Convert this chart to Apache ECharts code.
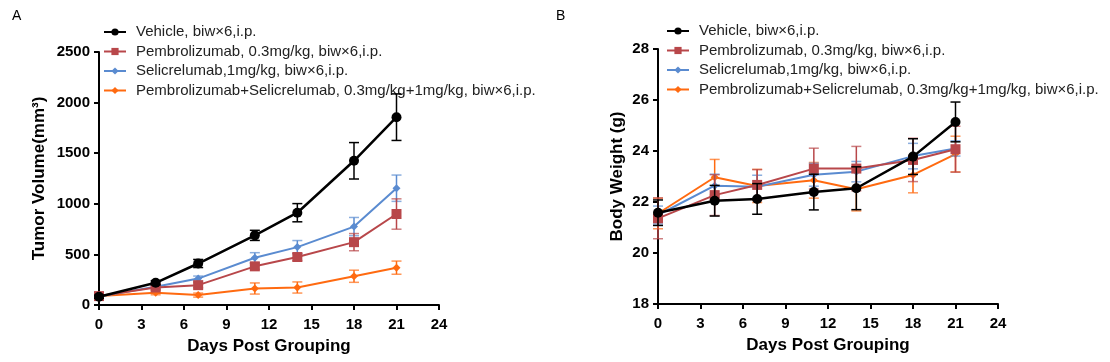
<!DOCTYPE html>
<html>
<head>
<meta charset="utf-8">
<script src="https://cdn.jsdelivr.net/npm/echarts@6/dist/echarts.min.js"></script>
<style>
html,body{margin:0;padding:0;background:#fff;}
#chart{width:1110px;height:362px;}
</style>
</head>
<body>
<div id="chart"></div>
<script>
// ---- data ----
const days = [0, 4, 7, 11, 14, 18, 21];
const xTicks = [0, 3, 6, 9, 12, 15, 18, 21, 24];
const seriesNames = [
  'Vehicle, biw×6,i.p.',
  'Pembrolizumab, 0.3mg/kg, biw×6,i.p.',
  'Selicrelumab,1mg/kg, biw×6,i.p.',
  'Pembrolizumab+Selicrelumab, 0.3mg/kg+1mg/kg, biw×6,i.p.'
];
// Tumor volume (mm3) mean and SEM
const tvVehicle    = [82, 219, 410, 688, 912, 1425, 1856];
const tvVehicleErr = [15, 20, 40, 50, 90, 180, 230];
const tvPembro     = [88, 173, 196, 382, 474, 621, 899];
const tvPembroErr  = [15, 20, 25, 30, 35, 85, 150];
const tvSeli       = [85, 180, 261, 467, 572, 775, 1154];
const tvSeliErr    = [15, 20, 25, 50, 65, 90, 130];
const tvCombo      = [88, 121, 98, 163, 173, 284, 369];
const tvComboErr   = [15, 20, 20, 55, 55, 60, 65];
// Body weight (g) mean and SEM
const bwVehicle    = [21.58, 22.05, 22.12, 22.39, 22.54, 23.78, 25.14];
const bwVehicleErr = [0.5, 0.6, 0.6, 0.7, 0.84, 0.7, 0.78];
const bwPembro     = [21.36, 22.27, 22.67, 23.31, 23.31, 23.65, 24.07];
const bwPembroErr  = [0.8, 0.8, 0.6, 0.8, 0.87, 0.85, 0.9];
const bwSeli       = [21.49, 22.64, 22.60, 23.07, 23.19, 23.80, 24.10];
const bwSeliErr    = [0.35, 0.45, 0.45, 0.45, 0.4, 0.5, 0.3];
const bwCombo      = [21.55, 22.97, 22.63, 22.85, 22.50, 23.06, 23.88];
const bwComboErr   = [0.6, 0.7, 0.65, 0.7, 0.85, 0.7, 0.7];

const colors = ['#000000', '#B8474A', '#5A8BD0', '#FF6A10'];
const symbols = ['circle', 'rect', 'diamond', 'diamond'];
const symbolSizes = [10, 10, 8, 8];
const lineWidths = [2.5, 2, 2, 2];
const zs = [8, 6, 5, 4];

function pairs(xs, ys) { return xs.map((x, i) => [x, ys[i]]); }
function errData(xs, ys, es) { return xs.map((x, i) => [x, ys[i], es[i]]); }

function errSeries(gi, si, ys, es) {
  return {
    type: 'custom',
    xAxisIndex: gi, yAxisIndex: gi,
    z: zs[si] - 0.5,
    silent: true,
    data: errData(days, ys, es),
    encode: { x: 0, y: 1 },
    renderItem: function (params, api) {
      const x = api.value(0), m = api.value(1), e = api.value(2);
      const top = api.coord([x, m + e]);
      const bot = api.coord([x, m - e]);
      const hw = 5;
      const st = { stroke: colors[si], lineWidth: 1.5 };
      const cap = { stroke: colors[si], lineWidth: 1.5, opacity: si === 0 ? 1 : 0.7 };
      return {
        type: 'group',
        children: [
          { type: 'line', shape: { x1: top[0], y1: top[1], x2: bot[0], y2: bot[1] }, style: st },
          { type: 'line', shape: { x1: top[0] - hw, y1: top[1], x2: top[0] + hw, y2: top[1] }, style: cap },
          { type: 'line', shape: { x1: bot[0] - hw, y1: bot[1], x2: bot[0] + hw, y2: bot[1] }, style: cap }
        ]
      };
    }
  };
}

function lineSeries(gi, si, ys) {
  return {
    name: seriesNames[si],
    type: 'line',
    xAxisIndex: gi, yAxisIndex: gi,
    z: zs[si],
    data: pairs(days, ys),
    symbol: symbols[si],
    symbolSize: symbolSizes[si],
    showAllSymbol: true,
    lineStyle: { color: colors[si], width: lineWidths[si] },
    itemStyle: { color: colors[si] },
    emphasis: { disabled: true }
  };
}

const tv = [[tvVehicle, tvVehicleErr], [tvPembro, tvPembroErr], [tvSeli, tvSeliErr], [tvCombo, tvComboErr]];
const bw = [[bwVehicle, bwVehicleErr], [bwPembro, bwPembroErr], [bwSeli, bwSeliErr], [bwCombo, bwComboErr]];

const series = [];
[tv, bw].forEach((set, gi) => {
  set.forEach((s, si) => {
    series.push(errSeries(gi, si, s[0], s[1]));
    series.push(lineSeries(gi, si, s[0]));
  });
});

const FF = 'Liberation Sans, Arial, sans-serif';
const axisLineStyle = { lineStyle: { color: '#000', width: 2 } };
const tickStyle = { show: true, length: 5, lineStyle: { color: '#000', width: 2 } };
const tickLabel = { color: '#000', fontFamily: FF, fontWeight: 'bold', fontSize: 15 };
const titleFont = { color: '#000', fontFamily: FF, fontWeight: 'bold', fontSize: 17 };

function xAxis(gi) {
  return {
    type: 'value', gridIndex: gi, min: 0, max: 24, interval: 3,
    name: 'Days Post Grouping', nameLocation: 'middle', nameGap: 33,
    nameTextStyle: titleFont,
    axisLine: axisLineStyle, axisTick: tickStyle,
    axisLabel: Object.assign({ margin: 12, formatter: v => xTicks.includes(v) ? String(v) : '' }, tickLabel),
    splitLine: { show: false }
  };
}

const legendText = { color: '#222', fontFamily: FF, fontSize: 15, lineHeight: 15, padding: [0, 0, 0, 5] };
function legend(left, top) {
  return {
    left: left, top: top, orient: 'vertical', padding: 0,
    itemWidth: 22, itemHeight: 9, itemGap: 4.5,
    data: seriesNames,
    textStyle: legendText,
    selectedMode: false
  };
}

const chart = echarts.init(document.getElementById('chart'), null, { renderer: 'canvas' });
chart.setOption({
  animation: false,
  backgroundColor: '#fff',
  graphic: [
    { type: 'text', left: 12, top: 9, style: { text: 'A', fontSize: 14, fill: '#000', fontFamily: FF } },
    { type: 'text', left: 556, top: 9, style: { text: 'B', fontSize: 14, fill: '#000', fontFamily: FF } }
  ],
  legend: [legend(103, 24.5), legend(666, 23.5)],
  grid: [
    { left: 99, top: 52, width: 340, height: 253 },
    { left: 658, top: 49, width: 340, height: 255 }
  ],
  xAxis: [xAxis(0), xAxis(1)],
  yAxis: [
    {
      type: 'value', gridIndex: 0, min: 0, max: 2500, interval: 500,
      name: 'Tumor Volume(mm³)', nameLocation: 'middle', nameGap: 51,
      nameTextStyle: titleFont,
      axisLine: Object.assign({ show: true }, axisLineStyle), axisTick: tickStyle,
      axisLabel: Object.assign({ margin: 9, formatter: v => String(v) }, tickLabel),
      splitLine: { show: false }
    },
    {
      type: 'value', gridIndex: 1, min: 18, max: 28, interval: 2,
      name: 'Body Weight (g)', nameLocation: 'middle', nameGap: 32,
      nameTextStyle: titleFont,
      axisLine: Object.assign({ show: true }, axisLineStyle), axisTick: tickStyle,
      axisLabel: Object.assign({ margin: 9, formatter: v => String(v) }, tickLabel),
      splitLine: { show: false }
    }
  ],
  series: series
});
</script>
</body>
</html>
